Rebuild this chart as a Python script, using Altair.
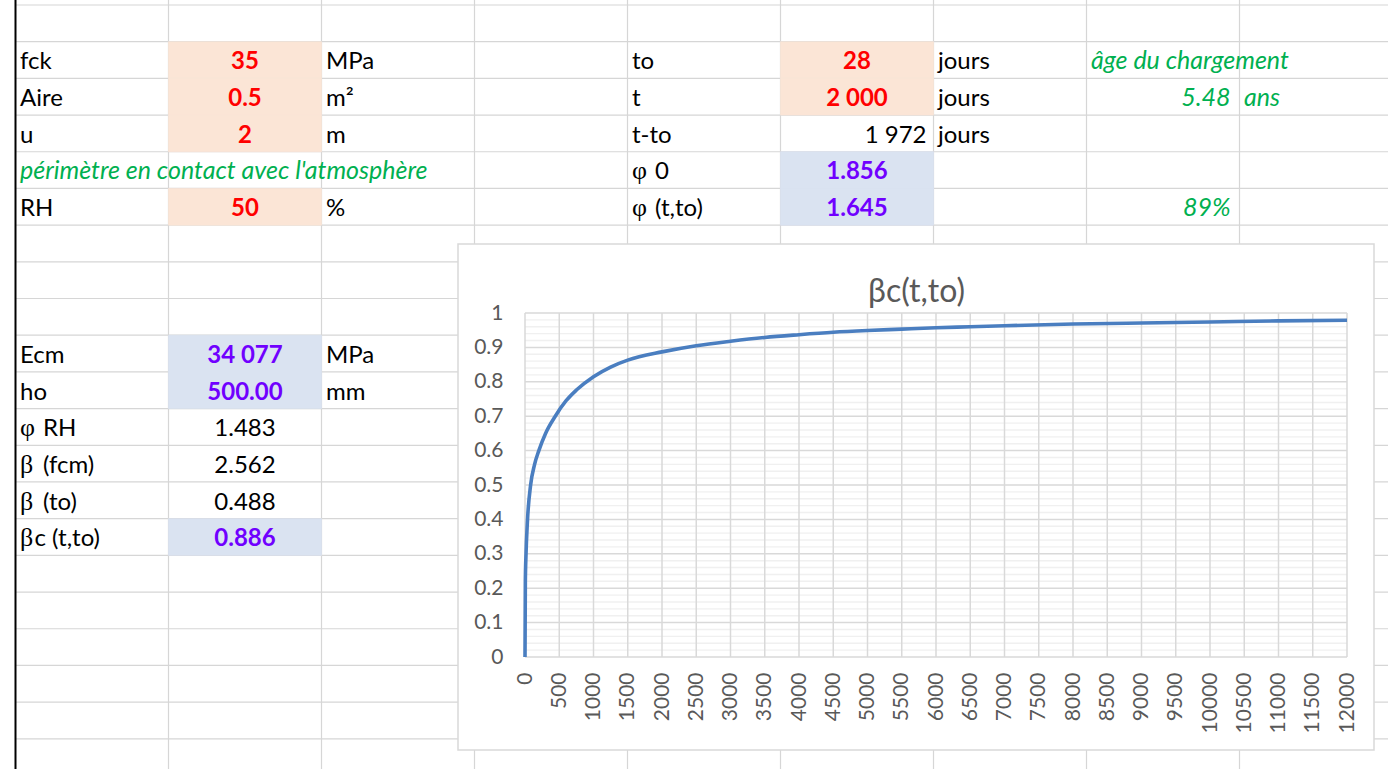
import altair as alt
import pandas as pd

# ---------------- spreadsheet content ----------------
input_names = ["fck", "Aire", "u", "RH"]
input_values = ["35", "0.5", "2", "50"]
input_units = ["MPa", "m²", "m", "%"]
perimeter_note = "périmètre en contact avec l'atmosphère"

time_names = ["to", "t", "t-to"]
time_inputs = ["28", "2 000"]
time_elapsed = "1 972"
time_unit = "jours"
loading_note = "âge du chargement"
duration_years = "5.48"
years_unit = "ans"

creep_names = ["φ 0", "φ (t,to)"]
creep_values = ["1.856", "1.645"]
creep_ratio = "89%"

modulus_names = ["Ecm", "ho"]
modulus_values = ["34 077", "500.00"]
modulus_units = ["MPa", "mm"]

coef_names = ["φ RH", "β (fcm)", "β (to)", "βc (t,to)"]
coef_values = ["1.483", "2.562", "0.488", "0.886"]

chart_title = "βc(t,to)"

# ---------------- creep development curve ----------------
t_days = [0, 5, 15, 34, 82, 140, 202, 300, 442, 600, 750, 1000, 1250, 1500,
          2000, 2500, 3000, 3500, 4000, 4500, 5000, 5500, 6000, 6500, 7000,
          8000, 9000, 10000, 11000, 12000]
beta_c = [0.0, 0.22, 0.30, 0.39, 0.50, 0.56, 0.60, 0.65, 0.70, 0.745, 0.776,
          0.815, 0.843, 0.863, 0.887, 0.905, 0.918, 0.929, 0.937, 0.944,
          0.949, 0.953, 0.957, 0.960, 0.963, 0.968, 0.971, 0.974, 0.977, 0.979]

x_ticks = list(range(0, 12001, 500))
y_major = [round(0.1 * k, 1) for k in range(11)]
y_minor = [round(0.02 * k, 2) for k in range(51) if k % 5]

# ---------------- layout ----------------
FONT = "Lato"
GREEK_FONT = "Liberation Serif"
TEXT_SIZE = 24
AXIS_SIZE = 21
BLACK, RED, PURPLE, GREEN = "#000000", "#FF0000", "#7000FF", "#00B050"
PEACH, BLUE = "#FBE5D6", "#DAE3F1"
GRID = "#D6D6D6"
AXIS_TEXT = "#595959"

PLOT_W, PLOT_H = 822, 344
PAD = {"left": 525, "top": 313, "right": 41, "bottom": 112}

COL_W, ROW_H = 153, 36.69
SHEET_X0, SHEET_Y0 = 15.5, 5
N_COLS, N_ROWS = 9, 21

INPUT_ROWS = [1, 2, 3, 5]
NOTE_ROW = 4
TIME_ROWS = [1, 2, 3]
CREEP_ROWS = [4, 5]
MODULUS_ROWS = [9, 10]
COEF_ROWS = [11, 12, 13, 14]

sheet_x = alt.Scale(domain=[0, N_COLS], nice=False, zero=False,
                    range=[SHEET_X0 - PAD["left"], SHEET_X0 + COL_W * N_COLS - PAD["left"]])
sheet_y = alt.Scale(domain=[0, N_ROWS], nice=False, zero=False,
                    range=[SHEET_Y0 - PAD["top"], SHEET_Y0 + ROW_H * N_ROWS - PAD["top"]])

# ---------------- sheet grid ----------------
hlines = pd.DataFrame({"row": list(range(N_ROWS)), "c0": 0, "c1": N_COLS})
vlines = pd.DataFrame({"col": list(range(1, N_COLS)), "r0": -0.2, "r1": N_ROWS + 1})

h_rules = alt.Chart(hlines).mark_rule(color=GRID, strokeWidth=1.2).encode(
    x=alt.X("c0:Q", scale=sheet_x, axis=None), x2="c1:Q",
    y=alt.Y("row:Q", scale=sheet_y, axis=None))
v_rules = alt.Chart(vlines).mark_rule(color=GRID, strokeWidth=1.2).encode(
    x=alt.X("col:Q", scale=sheet_x, axis=None),
    y=alt.Y("r0:Q", scale=sheet_y, axis=None), y2="r1:Q")
edge_rule = alt.Chart(pd.DataFrame({"col": [0], "r0": [-0.2], "r1": [N_ROWS + 1]})).mark_rule(
    color="#000000", strokeWidth=2).encode(
    x=alt.X("col:Q", scale=sheet_x, axis=None),
    y=alt.Y("r0:Q", scale=sheet_y, axis=None), y2="r1:Q")

# ---------------- cell fills ----------------
fill_cells = (
    [{"row": r, "col": 1, "kind": "input"} for r in INPUT_ROWS]
    + [{"row": r, "col": 5, "kind": "input"} for r in TIME_ROWS[:2]]
    + [{"row": r, "col": 5, "kind": "result"} for r in CREEP_ROWS]
    + [{"row": r, "col": 1, "kind": "result"} for r in MODULUS_ROWS]
    + [{"row": COEF_ROWS[-1], "col": 1, "kind": "result"}]
)
fills = pd.DataFrame(fill_cells)
fills["col2"] = fills["col"] + 1
fills["row2"] = fills["row"] + 1
fill_scale = alt.Scale(domain=["input", "result"], range=[PEACH, BLUE])
fill_rects = alt.Chart(fills).mark_rect(strokeWidth=0.6).encode(
    x=alt.X("col:Q", scale=sheet_x, axis=None), x2="col2:Q",
    y=alt.Y("row:Q", scale=sheet_y, axis=None), y2="row2:Q",
    fill=alt.Fill("kind:N", scale=fill_scale, legend=None),
    stroke=alt.Stroke("kind:N", scale=fill_scale, legend=None),
)

# ---------------- cell texts ----------------


def cells(texts, rows, col):
    return [{"text": t, "row": r, "col": col} for t, r in zip(texts, rows)]


plain_labels = (cells(input_names, INPUT_ROWS, 0) + cells(input_units, INPUT_ROWS, 2)
                + cells(time_names, TIME_ROWS, 4) + cells([time_unit] * 3, TIME_ROWS, 6)
                + cells(modulus_names, MODULUS_ROWS, 0) + cells(modulus_units, MODULUS_ROWS, 2))
greek_labels = cells(creep_names, CREEP_ROWS, 4) + cells(coef_names, COEF_ROWS, 0)

# the leading Greek letter is set in a serif face, the rest in the sheet font
greek_chars, after_space, after_tight = [], [], []
for c in greek_labels:
    head, rest = c["text"][0], c["text"][1:]
    greek_chars.append({**c, "text": head})
    if rest.startswith(" "):
        after_space.append({**c, "text": rest.strip()})
    else:
        after_tight.append({**c, "text": rest})

red_values = cells(input_values, INPUT_ROWS, 1) + cells(time_inputs, TIME_ROWS[:2], 5)
purple_values = (cells(creep_values, CREEP_ROWS, 5) + cells(modulus_values, MODULUS_ROWS, 1)
                 + cells(coef_values[3:], COEF_ROWS[3:], 1))
black_values = cells(coef_values[:3], COEF_ROWS[:3], 1)
right_values = cells([time_elapsed], [TIME_ROWS[2]], 5)
green_left = (cells([perimeter_note], [NOTE_ROW], 0) + cells([loading_note], [1], 7)
              + cells([years_unit], [2], 8))
green_right = cells([duration_years], [2], 7) + cells([creep_ratio], [5], 7)

ANCHOR = {"left": 0.0, "center": 0.5, "right": 1.0}


def text_layer(records, align, dx, color, font=FONT, size=TEXT_SIZE, weight="normal", style="normal"):
    df = pd.DataFrame(records)
    df["xpos"] = df["col"] + ANCHOR[align]
    df["ybase"] = df["row"] + 1
    return alt.Chart(df).mark_text(
        align=align, baseline="alphabetic", dx=dx, dy=-9, font=font, fontSize=size,
        fontWeight=weight, fontStyle=style, color=color,
    ).encode(
        x=alt.X("xpos:Q", scale=sheet_x, axis=None),
        y=alt.Y("ybase:Q", scale=sheet_y, axis=None),
        text="text:N",
    )


texts = [
    text_layer(plain_labels, "left", 4.5, BLACK),
    text_layer(greek_chars, "left", 4.5, BLACK, font=GREEK_FONT, size=TEXT_SIZE + 2),
    text_layer(after_space, "left", 27.5, BLACK),
    text_layer(after_tight, "left", 19, BLACK),
    text_layer(red_values, "center", 0, RED, weight="bold"),
    text_layer(purple_values, "center", 0, PURPLE, weight="bold"),
    text_layer(black_values, "center", 0, BLACK),
    text_layer(right_values, "right", -7, BLACK),
    text_layer(green_left, "left", 4.5, GREEN, size=TEXT_SIZE + 1, style="italic"),
    text_layer(green_right, "right", -9, GREEN, size=TEXT_SIZE + 1, style="italic"),
]

# ---------------- embedded chart ----------------
chart_x = alt.Scale(domain=[0, 12000], nice=False, zero=False)
chart_y = alt.Scale(domain=[0, 1], nice=False, zero=False)

frame = alt.Chart(pd.DataFrame({"k": [0]})).mark_rect(
    fill="#FFFFFF", stroke="#D9D9D9", strokeWidth=1.5).encode(
    x=alt.value(458 - PAD["left"]), x2=alt.value(1374 - PAD["left"]),
    y=alt.value(244 - PAD["top"]), y2=alt.value(750 - PAD["top"]))

title = alt.Chart(pd.DataFrame({"t": [chart_title]})).mark_text(
    font=FONT, fontSize=32, color=AXIS_TEXT, align="center", baseline="alphabetic").encode(
    x=alt.value(916.5 - PAD["left"]), y=alt.value(302 - PAD["top"]), text="t:N")

minor_grid = alt.Chart(pd.DataFrame({"v": y_minor})).mark_rule(color="#F0F0F0", strokeWidth=1.4).encode(
    y=alt.Y("v:Q", scale=chart_y, axis=None))
major_hgrid = alt.Chart(pd.DataFrame({"v": y_major})).mark_rule(color="#D9D9D9", strokeWidth=1.5).encode(
    y=alt.Y("v:Q", scale=chart_y, axis=None))
major_vgrid = alt.Chart(pd.DataFrame({"v": x_ticks})).mark_rule(color="#D9D9D9", strokeWidth=1.5).encode(
    x=alt.X("v:Q", scale=chart_x, axis=None))

curve = alt.Chart(pd.DataFrame({"t": t_days, "b": beta_c})).mark_line(
    color="#4A7EC0", strokeWidth=3.6, interpolate="monotone").encode(
    x=alt.X("t:Q", scale=chart_x, axis=alt.Axis(
        values=x_ticks, format="d", labelAngle=-90, labelAlign="right", labelBaseline="middle",
        labelPadding=15, ticks=False, domain=False, grid=False, title=None,
        labelFont=FONT, labelFontSize=AXIS_SIZE, labelColor=AXIS_TEXT,
        labelOverlap=False, labelFlush=False, zindex=1)),
    y=alt.Y("b:Q", scale=chart_y, axis=alt.Axis(
        values=y_major, format="~g", labelPadding=22, ticks=False, domain=False,
        grid=False, title=None, labelFont=FONT, labelFontSize=AXIS_SIZE, labelColor=AXIS_TEXT,
        labelOverlap=False, labelFlush=False, zindex=1)),
)

chart = alt.layer(
    h_rules, v_rules, fill_rects, edge_rule, *texts,
    frame, title, minor_grid, major_hgrid, major_vgrid, curve,
).resolve_scale(
    x="independent", y="independent", fill="independent", stroke="independent"
).properties(
    width=PLOT_W, height=PLOT_H, padding=PAD,
    autosize=alt.AutoSizeParams(type="none"), background="#FFFFFF",
).configure_view(stroke=None)

chart.save("out.html", embed_options={"renderer": "svg", "actions": False})
